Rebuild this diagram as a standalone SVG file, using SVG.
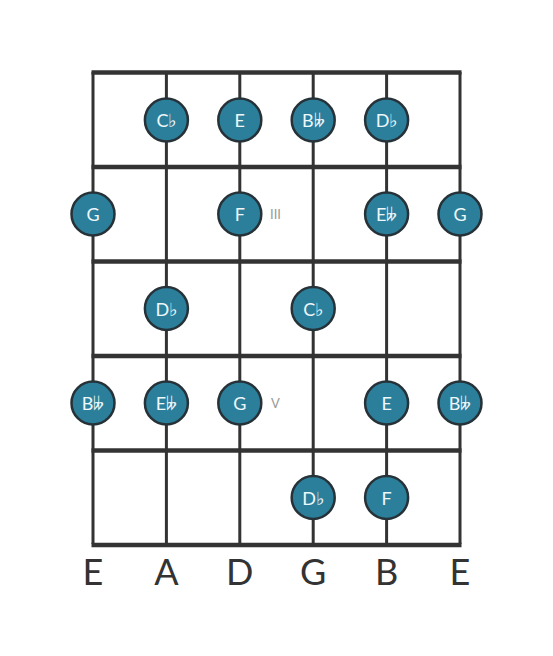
<svg xmlns="http://www.w3.org/2000/svg" width="553" height="656" viewBox="0 0 553 656">
<style>
.fret{stroke:#333;stroke-width:4.5;}
.str{stroke:#333;stroke-width:3;}
.dot{fill:#2b7f9b;stroke:#263238;stroke-width:2.5;}
.nt{fill:#eef7fa;font-family:"Lato","Open Sans",sans-serif;font-size:18px;text-anchor:middle;dominant-baseline:central;}
.fl{fill:#999;font-family:"Lato","Open Sans",sans-serif;font-size:13px;dominant-baseline:central;}
.sl{fill:#333;font-family:"Lato","Open Sans",sans-serif;font-size:36px;text-anchor:middle;}
</style>
<rect width="553" height="656" fill="#fff"/>
<g id="connectors">
<line class="str" x1="93" y1="72" x2="93" y2="544"/>
<line class="str" x1="166.4" y1="72" x2="166.4" y2="544"/>
<line class="str" x1="239.8" y1="72" x2="239.8" y2="544"/>
<line class="str" x1="313.2" y1="72" x2="313.2" y2="544"/>
<line class="str" x1="386.6" y1="72" x2="386.6" y2="544"/>
<line class="str" x1="460" y1="72" x2="460" y2="544"/>
<line class="fret" x1="91.5" y1="72.5" x2="461.5" y2="72.5"/>
<line class="fret" x1="91.5" y1="167" x2="461.5" y2="167"/>
<line class="fret" x1="91.5" y1="261.5" x2="461.5" y2="261.5"/>
<line class="fret" x1="91.5" y1="356" x2="461.5" y2="356"/>
<line class="fret" x1="91.5" y1="450.5" x2="461.5" y2="450.5"/>
<line class="fret" x1="91.5" y1="545" x2="461.5" y2="545"/>
</g>
<g id="n1"><circle class="dot" cx="166.4" cy="120" r="21.5"/><text class="nt" x="166.4" y="120">C♭</text></g>
<g id="n2"><circle class="dot" cx="239.8" cy="120" r="21.5"/><text class="nt" x="239.8" y="120">E</text></g>
<g id="n3"><circle class="dot" cx="313.2" cy="120" r="21.5"/><text class="nt" x="313.2" y="120">B𝄫</text></g>
<g id="n4"><circle class="dot" cx="386.6" cy="120" r="21.5"/><text class="nt" x="386.6" y="120">D♭</text></g>
<g id="n5"><circle class="dot" cx="93" cy="214" r="21.5"/><text class="nt" x="93" y="214">G</text></g>
<g id="n6"><circle class="dot" cx="239.8" cy="214" r="21.5"/><text class="nt" x="239.8" y="214">F</text></g>
<g id="n7"><circle class="dot" cx="386.6" cy="214" r="21.5"/><text class="nt" x="386.6" y="214">E𝄫</text></g>
<g id="n8"><circle class="dot" cx="460" cy="214" r="21.5"/><text class="nt" x="460" y="214">G</text></g>
<g id="n9"><circle class="dot" cx="166.4" cy="308.5" r="21.5"/><text class="nt" x="166.4" y="308.5">D♭</text></g>
<g id="n10"><circle class="dot" cx="313.2" cy="308.5" r="21.5"/><text class="nt" x="313.2" y="308.5">C♭</text></g>
<g id="n11"><circle class="dot" cx="93" cy="403" r="21.5"/><text class="nt" x="93" y="403">B𝄫</text></g>
<g id="n12"><circle class="dot" cx="166.4" cy="403" r="21.5"/><text class="nt" x="166.4" y="403">E𝄫</text></g>
<g id="n13"><circle class="dot" cx="239.8" cy="403" r="21.5"/><text class="nt" x="239.8" y="403">G</text></g>
<g id="n14"><circle class="dot" cx="386.6" cy="403" r="21.5"/><text class="nt" x="386.6" y="403">E</text></g>
<g id="n15"><circle class="dot" cx="460" cy="403" r="21.5"/><text class="nt" x="460" y="403">B𝄫</text></g>
<g id="n16"><circle class="dot" cx="313.2" cy="497.5" r="21.5"/><text class="nt" x="313.2" y="497.5">D♭</text></g>
<g id="n17"><circle class="dot" cx="386.6" cy="497.5" r="21.5"/><text class="nt" x="386.6" y="497.5">F</text></g>
<g id="fretlabels">
<text class="fl" x="270" y="214">III</text>
<text class="fl" x="271" y="403">V</text>
</g>
<g id="strings">
<text class="sl" x="93" y="585">E</text>
<text class="sl" x="166.4" y="585">A</text>
<text class="sl" x="239.8" y="585">D</text>
<text class="sl" x="313.2" y="585">G</text>
<text class="sl" x="386.6" y="585">B</text>
<text class="sl" x="460" y="585">E</text>
</g>
</svg>
